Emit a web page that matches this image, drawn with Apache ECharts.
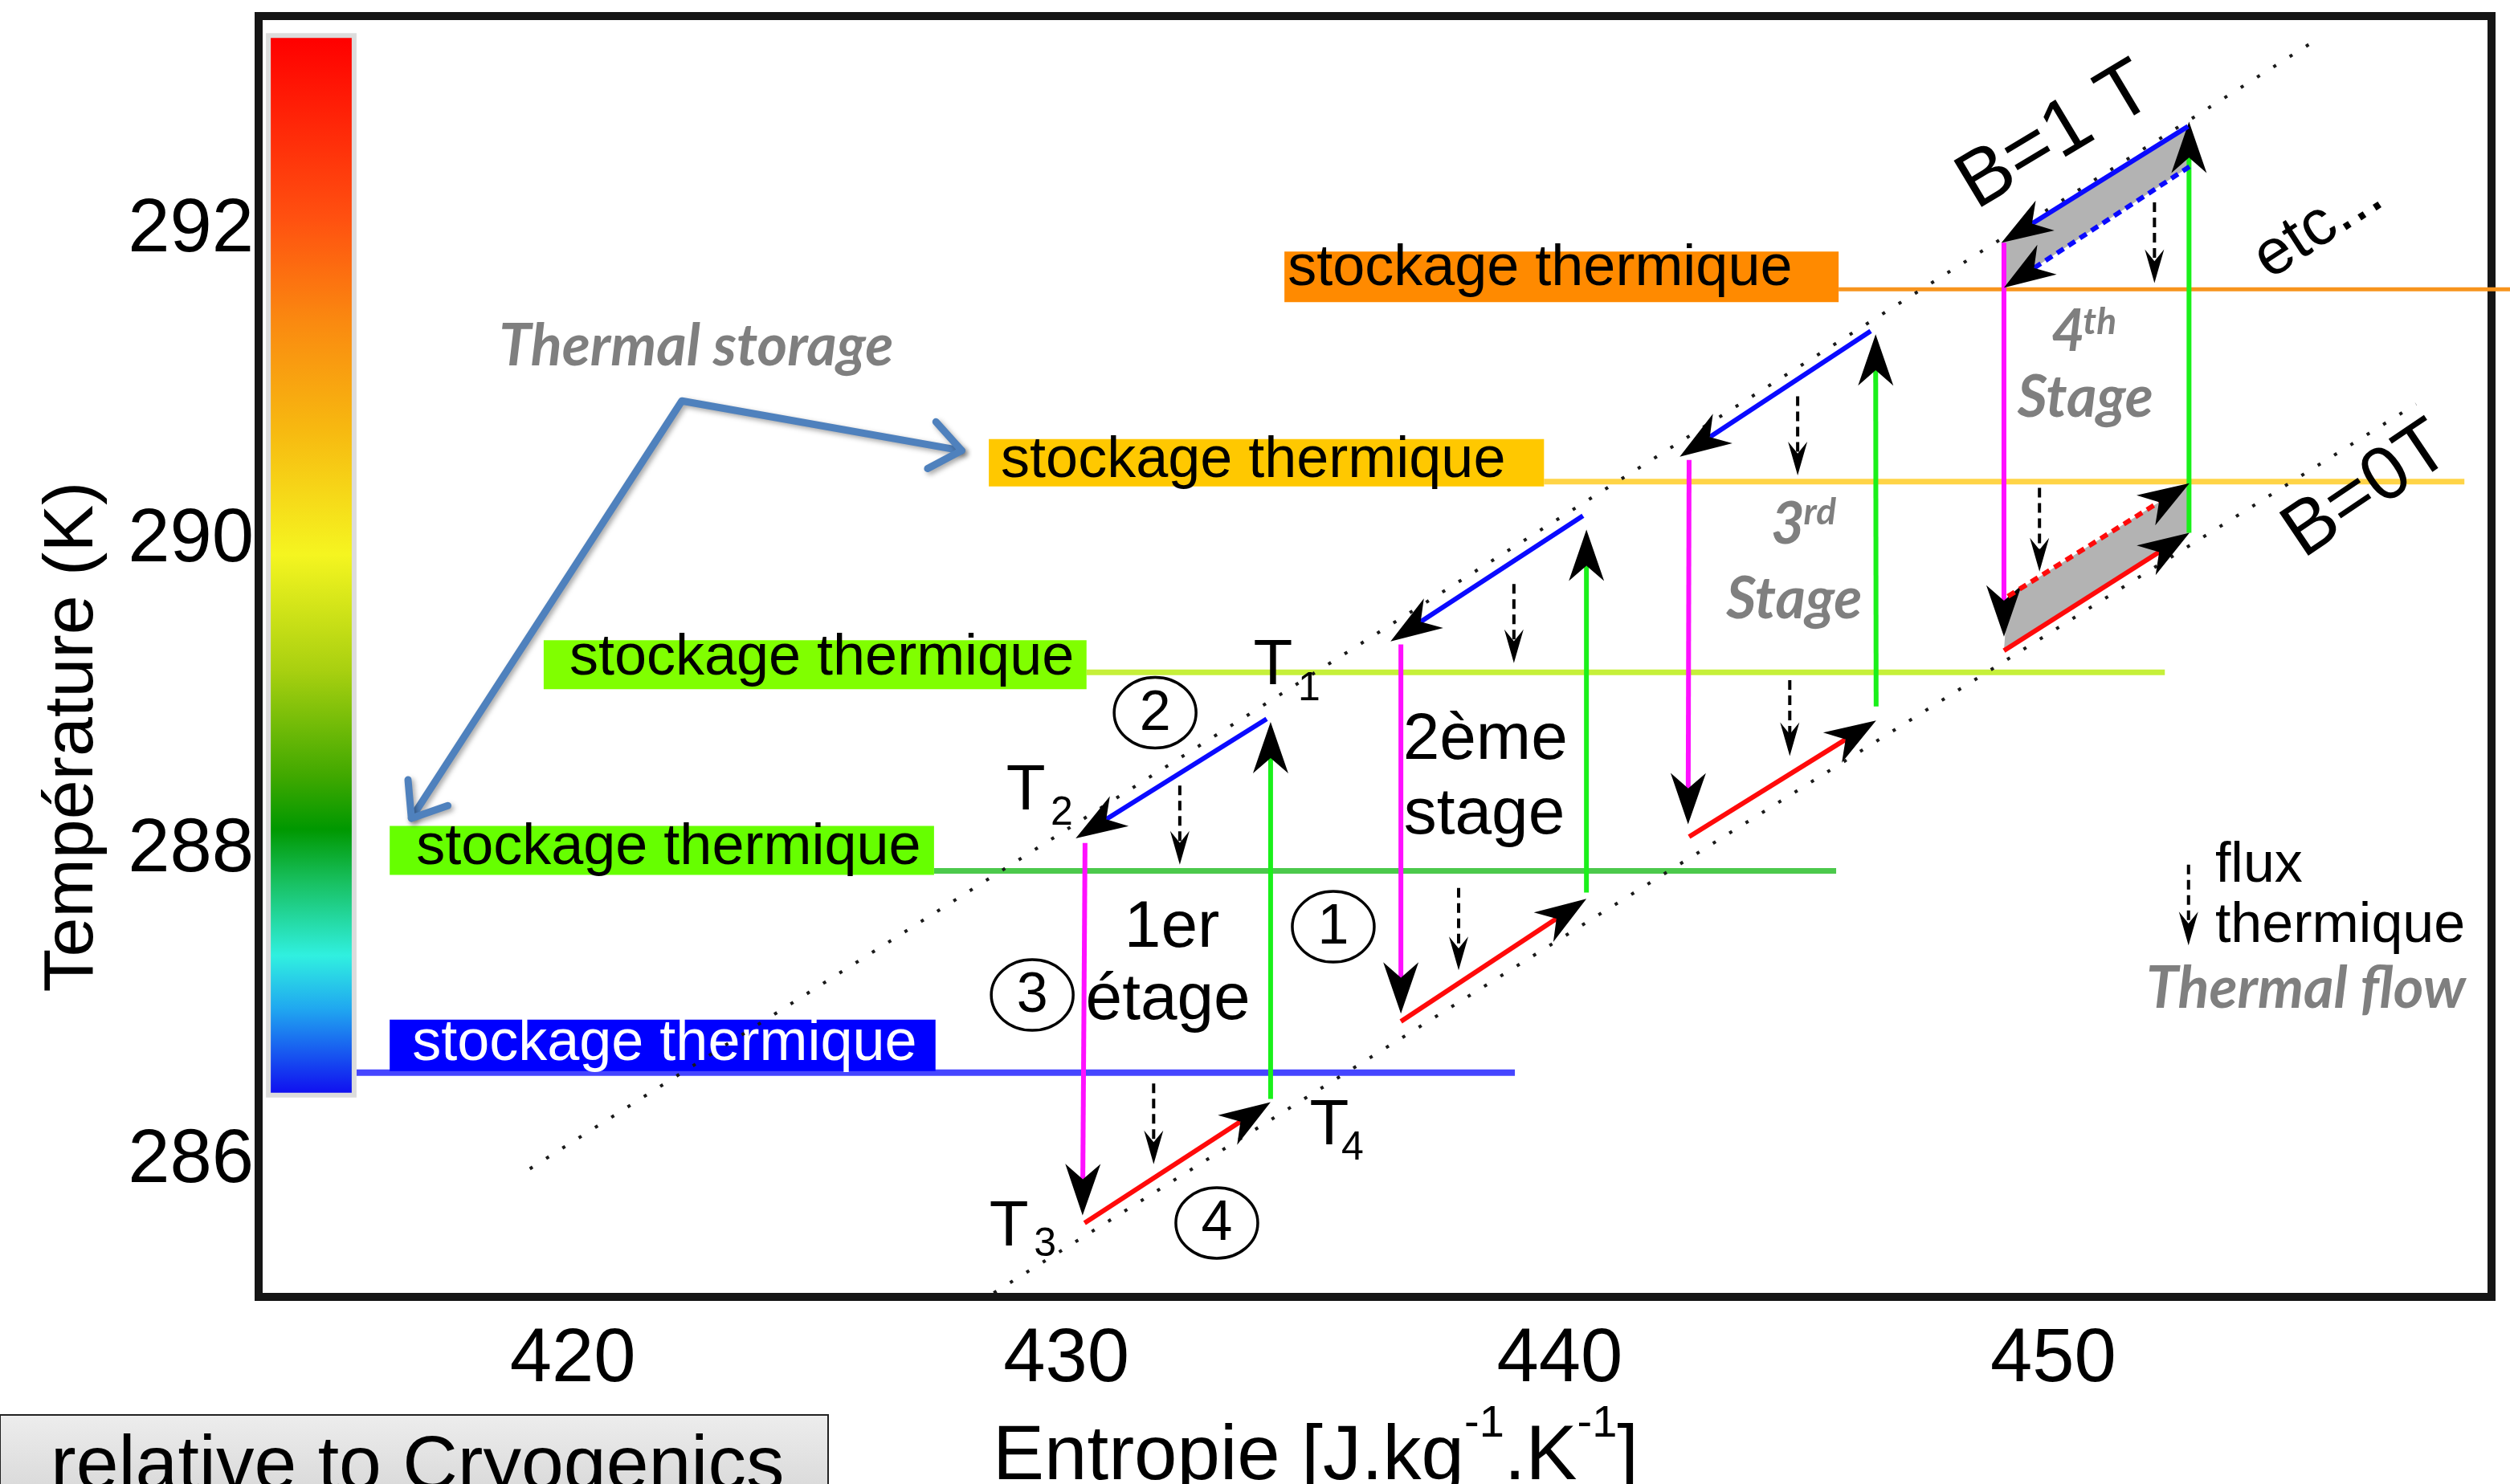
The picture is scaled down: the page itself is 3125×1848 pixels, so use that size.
<!DOCTYPE html>
<html><head><meta charset="utf-8">
<script src="https://cdn.jsdelivr.net/npm/echarts@6/dist/echarts.min.js"></script>
<style>html,body{margin:0;padding:0;background:#fff}#c{width:3125px;height:1848px}</style>
</head><body><div id="c"></div>
<script>
// ---------------- data (entropy J/kg/K, temperature K) ----------------
const xTicks = [420, 430, 440, 450];
const yTicks = [286, 288, 290, 292];

const lineB1 = [[419.13, 285.95], [455.24, 293.21]];
const lineB0 = [[428.53, 285.15], [457.35, 290.88]];

// thermal storage levels
const storageTemp      = [291.62, 290.38, 289.15, 287.87, 286.57];
const storageBoxStart  = [434.42, 428.43, 419.41, 416.29, 416.29];
const storageBoxEnd    = [445.65, 439.68, 430.41, 427.32, 427.35];
const storageLineStart = [445.65, 439.68, 430.41, 427.32, 415.62];
const storageLineEnd   = [459.30, 458.33, 452.26, 445.60, 439.09];
const storageText = 'stockage thermique';

// process segments [s1, T1, s2, T2]
const segGreen   = [[434.14,286.40,434.14,288.83],[440.54,287.73,440.54,290.07],[446.41,288.93,446.40,291.33],[452.75,290.05,452.75,292.70]];
const segBlue    = [[434.06,288.85,430.19,288.08],[440.47,290.16,436.57,289.35],[446.30,291.35,442.43,290.54],[452.73,292.67,448.95,291.92]];
const segBlueDashed = [[452.76,292.41,449.00,291.63]];
const segMagenta = [[430.38,288.05,430.33,285.65],[436.78,289.33,436.78,286.95],[442.62,290.52,442.60,288.17],[449.00,291.92,449.00,289.38]];
const segRed     = [[430.37,285.60,434.14,286.38],[436.78,286.90,440.54,287.69],[442.62,288.09,446.41,288.84],[449.00,289.29,452.76,290.05]];
const segRedDashed = [[449.08,289.64,452.76,290.37]];
const greyAreas = [
  [452.73,292.67, 448.95,291.92, 449.00,291.63, 452.76,292.41],
  [449.08,289.64, 452.76,290.37, 452.76,290.05, 449.00,289.29]
];
// thermal flow arrows [s, T start, T end]
const flowArrows = [[432.30,288.42,287.91],[431.77,286.50,285.98],[439.07,289.72,289.21],[437.95,287.76,287.23],
  [444.82,290.93,290.42],[444.66,289.10,288.61],[452.05,292.18,291.66],[449.72,290.34,289.80],[452.74,287.91,287.39]];
// "Thermal storage" callout [joint s, joint T, tip1 s, tip1 T, tip2 s, tip2 T]
const callout = [[422.21, 290.90, 427.88, 290.58, 416.73, 288.21]];
// colour scale extent [s1, T1, s2, T2]
const colorbar = [[413.88, 293.24, 415.52, 286.44]];
// circled step numbers [s, T, label]
const circles = [[431.80,288.89,'2'],[435.41,287.51,'1'],[429.31,287.07,'3'],[433.05,285.60,'4']];
// text notes [s, T, text, kind]
const notes = [
  [434.19,289.19,'T','T'],[434.92,289.04,'1','sub'],
  [429.18,288.38,'T','T'],[429.91,288.24,'2','sub'],
  [428.84,285.57,'T','T'],[429.57,285.46,'3','sub'],
  [435.33,286.22,'T','T'],[435.80,286.08,'4','sub'],
  [432.14,287.50,'1er','stage'],[432.06,287.03,'étage','stage'],
  [438.49,288.71,'2ème','stage'],[438.47,288.23,'stage','stage'],
  [444.62,290.10,'3','en'],[445.27,290.18,'rd','enSup'],[444.75,289.62,'Stage','en'],
  [450.30,291.34,'4','en'],[450.94,291.41,'th','enSup'],[450.65,290.92,'Stage','en'],
  [422.50,291.25,'Thermal storage','en'],
  [455.12,287.11,'Thermal flow','en'],
  [453.28,287.90,'flux','legend'],[453.28,287.51,'thermique','legend'],
  [450.05,292.60,'B=1 T','field1'],
  [456.36,290.32,'B=0T','field0'],
  [455.37,292.02,'etc...','etc']
];

// ---------------- styles ----------------
const FONT = '"Liberation Sans", Arial, sans-serif';
const storageStyles = [
  {box:'#FF8A00', line:'#F7941D', lw:5, top:47, bottom:16, dy:-25, pad:4,  text:'#000'},
  {box:'#FFC800', line:'#FFD447', lw:7, top:53, bottom:6,  dy:-26, pad:15, text:'#000'},
  {box:'#80FF00', line:'#C6F03A', lw:7, top:40, bottom:21, dy:-17, pad:32, text:'#000'},
  {box:'#66FF00', line:'#4CC94C', lw:7, top:56, bottom:5,  dy:-28, pad:33, text:'#000'},
  {box:'#0000FF', line:'#4545FF', lw:8, top:66, bottom:-2, dy:-36, pad:28, text:'#FFFFFF'}
];
const noteStyles = {
  T:     {font:'80px ' + FONT, color:'#000', align:'center'},
  sub:   {font:'50px ' + FONT, color:'#000', align:'center'},
  stage: {font:'82px ' + FONT, color:'#000', align:'center'},
  en:    {font:'italic bold 72px Lato, "Open Sans", sans-serif', color:'#7F7F7F', align:'center'},
  enSup: {font:'italic bold 46px Lato, "Open Sans", sans-serif', color:'#7F7F7F', align:'center'},
  legend:{font:'70px ' + FONT, color:'#000', align:'left'},
  field1:{font:'98px ' + FONT, color:'#000', align:'center', rot:31},
  field0:{font:'94px ' + FONT, color:'#000', align:'center', rot:34},
  etc:   {font:'80px ' + FONT, color:'#000', align:'center', rot:33}
};

function arrowHead(tip, ux, uy, L, W, N) {
  const bx = tip[0] - ux * L, by = tip[1] - uy * L;
  return [[tip[0], tip[1]], [bx - uy * W, by + ux * W], [tip[0] - ux * L * N, tip[1] - uy * L * N], [bx + uy * W, by - ux * W]];
}
function segRender(color, dash) {
  return function (params, api) {
    const p1 = api.coord([api.value(0), api.value(1)]);
    const p2 = api.coord([api.value(2), api.value(3)]);
    const dx = p2[0] - p1[0], dy = p2[1] - p1[1], len = Math.hypot(dx, dy), ux = dx / len, uy = dy / len;
    const L = 64, W = 22, N = 0.7;
    return {type:'group', children:[
      {type:'line', shape:{x1:p1[0], y1:p1[1], x2:p2[0] - ux * L * N, y2:p2[1] - uy * L * N},
       style:{stroke:color, lineWidth:6, lineDash:dash || null}},
      {type:'polygon', shape:{points:arrowHead(p2, ux, uy, L, W, N)}, style:{fill:'#000'}}
    ]};
  };
}
function segSeries(data, color, dash) {
  return {type:'custom', data:data, renderItem:segRender(color, dash), encode:{x:[0,2], y:[1,3]}, silent:true, z:5};
}

const series = [];
// colour scale
series.push({type:'custom', data:colorbar, encode:{x:[0,2], y:[1,3]}, silent:true, z:2,
  renderItem:function (params, api) {
    const a = api.coord([api.value(0), api.value(1)]);
    const b = api.coord([api.value(2), api.value(3)]);
    return {type:'group', children:[
      {type:'rect', shape:{x:a[0] - 6, y:a[1] - 6, width:b[0] - a[0] + 12, height:b[1] - a[1] + 12}, style:{fill:'#DCDCDC'}},
      {type:'rect', shape:{x:a[0], y:a[1], width:b[0] - a[0], height:b[1] - a[1]},
       style:{fill:{type:'linear', x:0, y:0, x2:0, y2:1, colorStops:[
         {offset:0, color:'#FF0000'},{offset:0.17, color:'#FF5010'},{offset:0.27, color:'#FA8A10'},
         {offset:0.37, color:'#F7B810'},{offset:0.49, color:'#F5F520'},{offset:0.60, color:'#A8D010'},
         {offset:0.70, color:'#40A800'},{offset:0.75, color:'#009800'},{offset:0.80, color:'#18C060'},
         {offset:0.87, color:'#30F0E0'},{offset:0.92, color:'#20A8F0'},{offset:1, color:'#1010F0'}]}}}
    ]};
  }});
// storage levels
series.push({type:'custom', silent:true, z:3,
  data: storageTemp.map((t, i) => [storageLineStart[i], t, storageLineEnd[i], storageBoxStart[i], storageBoxEnd[i]]),
  encode:{x:[0,2], y:1},
  renderItem:function (params, api) {
    const st = storageStyles[params.dataIndex];
    const T = api.value(1);
    const l0 = api.coord([api.value(0), T]), l1 = api.coord([api.value(2), T]);
    const b0 = api.coord([api.value(3), T]), b1 = api.coord([api.value(4), T]);
    return {type:'group', children:[
      {type:'line', shape:{x1:l0[0], y1:l0[1], x2:l1[0], y2:l1[1]}, style:{stroke:st.line, lineWidth:st.lw}},
      {type:'rect', shape:{x:b0[0], y:b0[1] - st.top, width:b1[0] - b0[0], height:st.top + st.bottom}, style:{fill:st.box}},
      {type:'text', x:b0[0] + st.pad, y:b0[1] + st.dy,
       style:{text:storageText, font:'72px ' + FONT, fill:st.text, align:'left', verticalAlign:'middle'}}
    ]};
  }});
// grey areas
series.push({type:'custom', data:greyAreas, silent:true, z:4, encode:{x:[0,2,4,6], y:[1,3,5,7]},
  renderItem:function (params, api) {
    const pts = [];
    for (let k = 0; k < 4; k++) pts.push(api.coord([api.value(2 * k), api.value(2 * k + 1)]));
    return {type:'polygon', shape:{points:pts}, style:{fill:'#B3B3B3'}};
  }});
// iso-field dotted lines
[lineB1, lineB0].forEach(d => series.push({type:'line', data:d, symbol:'none', silent:true, z:4, clip:false,
  lineStyle:{color:'#1a1a1a', width:4, type:[4, 20]}}));
// process segments
series.push(segSeries(segGreen, '#1AF01A'));
series.push(segSeries(segMagenta, '#FF10FF'));
series.push(segSeries(segRed, '#FF0A0A'));
series.push(segSeries(segRedDashed, '#FF0A0A', [10, 7]));
series.push(segSeries(segBlue, '#0A0AFF'));
series.push(segSeries(segBlueDashed, '#0A0AFF', [10, 7]));
// thermal flow arrows
series.push({type:'custom', data:flowArrows, silent:true, z:6, encode:{x:0, y:[1,2]},
  renderItem:function (params, api) {
    const p1 = api.coord([api.value(0), api.value(1)]);
    const p2 = api.coord([api.value(0), api.value(2)]);
    const dx = p2[0] - p1[0], dy = p2[1] - p1[1], len = Math.hypot(dx, dy), ux = dx / len, uy = dy / len;
    const L = 42, W = 12, N = 0.65;
    return {type:'group', children:[
      {type:'line', shape:{x1:p1[0], y1:p1[1], x2:p2[0] - ux * L * N, y2:p2[1] - uy * L * N}, style:{stroke:'#000', lineWidth:4, lineDash:[12, 7]}},
      {type:'polygon', shape:{points:arrowHead(p2, ux, uy, L, W, N)}, style:{fill:'#000'}}
    ]};
  }});
// callout arrows
series.push({type:'custom', data:callout, silent:true, z:6, encode:{x:[0,2,4], y:[1,3,5]},
  renderItem:function (params, api) {
    const j = api.coord([api.value(0), api.value(1)]);
    const tips = [api.coord([api.value(2), api.value(3)]), api.coord([api.value(4), api.value(5)])];
    const st = {stroke:'#4F81BD', lineWidth:9, lineCap:'round', lineJoin:'round', fill:null,
      shadowBlur:6, shadowColor:'rgba(0,0,0,0.35)', shadowOffsetX:3, shadowOffsetY:3};
    const children = [{type:'polyline', shape:{points:[tips[0], j, tips[1]]}, style:st}];
    tips.forEach(t => {
      const dx = t[0] - j[0], dy = t[1] - j[1], len = Math.hypot(dx, dy), ux = dx / len, uy = dy / len;
      const a = 38 * Math.PI / 180, L = 48;
      const w1 = [t[0] - L * (ux * Math.cos(a) - uy * Math.sin(a)), t[1] - L * (uy * Math.cos(a) + ux * Math.sin(a))];
      const w2 = [t[0] - L * (ux * Math.cos(a) + uy * Math.sin(a)), t[1] - L * (uy * Math.cos(a) - ux * Math.sin(a))];
      children.push({type:'polyline', shape:{points:[w1, t, w2]}, style:st});
    });
    return {type:'group', children:children};
  }});
// circled numbers
series.push({type:'custom', data:circles, silent:true, z:7, encode:{x:0, y:1},
  renderItem:function (params, api) {
    const p = api.coord([api.value(0), api.value(1)]);
    return {type:'group', children:[
      {type:'ellipse', shape:{cx:p[0], cy:p[1], rx:51, ry:44}, style:{fill:null, stroke:'#000', lineWidth:3.5}},
      {type:'text', x:p[0], y:p[1] + 2, style:{text:circles[params.dataIndex][2], font:'70px ' + FONT, fill:'#000', align:'center', verticalAlign:'middle'}}
    ]};
  }});
// notes
series.push({type:'custom', data:notes, silent:true, z:8, encode:{x:0, y:1},
  renderItem:function (params, api) {
    const n = notes[params.dataIndex];
    const st = noteStyles[n[3]];
    const p = api.coord([api.value(0), api.value(1)]);
    return {type:'text', x:p[0], y:p[1], rotation:(st.rot || 0) * Math.PI / 180,
      style:{text:n[2], font:st.font, fill:st.color, align:st.align, verticalAlign:'middle'}};
  }});

const chart = echarts.init(document.getElementById('c'), null, {width:3125, height:1848});
chart.setOption({
  animation:false,
  backgroundColor:'#fff',
  grid:{left:322, right:23, top:20, bottom:233, show:true, borderColor:'#151515', borderWidth:10,
    backgroundColor:'transparent', containLabel:false, outerBoundsMode:'none'},
  xAxis:{type:'value', min:413.634, max:458.88,
    axisLine:{show:false}, axisTick:{show:false}, splitLine:{show:false},
    axisLabel:{customValues:xTicks, fontSize:94, fontFamily:'Liberation Sans', color:'#000', margin:32},
    name:'{a|Entropie [J.kg}{s|-1}{a|.K}{s|-1}{a|]}', nameLocation:'middle', nameGap:94,
    nameTextStyle:{padding:[0,148,0,0], rich:{
      a:{fontSize:96, lineHeight:140, fontFamily:'Liberation Sans', color:'#000'},
      s:{fontSize:56, lineHeight:60, fontFamily:'Liberation Sans', color:'#000', verticalAlign:'top'}}}},
  yAxis:{type:'value', min:285.124, max:293.381,
    axisLine:{show:false}, axisTick:{show:false}, splitLine:{show:false},
    axisLabel:{customValues:yTicks, fontSize:94, fontFamily:'Liberation Sans', color:'#000', margin:6},
    name:'Température (K)', nameLocation:'middle', nameGap:187,
    nameTextStyle:{fontSize:88, fontFamily:'Liberation Sans', color:'#000', padding:[0,200,0,0]}},
  graphic:[
    {type:'rect', shape:{x:0, y:1762, width:1031, height:120}, z:100,
     style:{fill:{type:'linear', x:0, y:0, x2:0, y2:1, colorStops:[{offset:0, color:'#EDEDED'},{offset:1, color:'#D4D4D4'}]}, stroke:'#222', lineWidth:2}},
    {type:'text', x:63, y:1780, z:101, style:{text:'relative to Cryogenics', font:'95px ' + FONT, fill:'#000', verticalAlign:'top'}}
  ],
  series:series
});
</script>
</body></html>
